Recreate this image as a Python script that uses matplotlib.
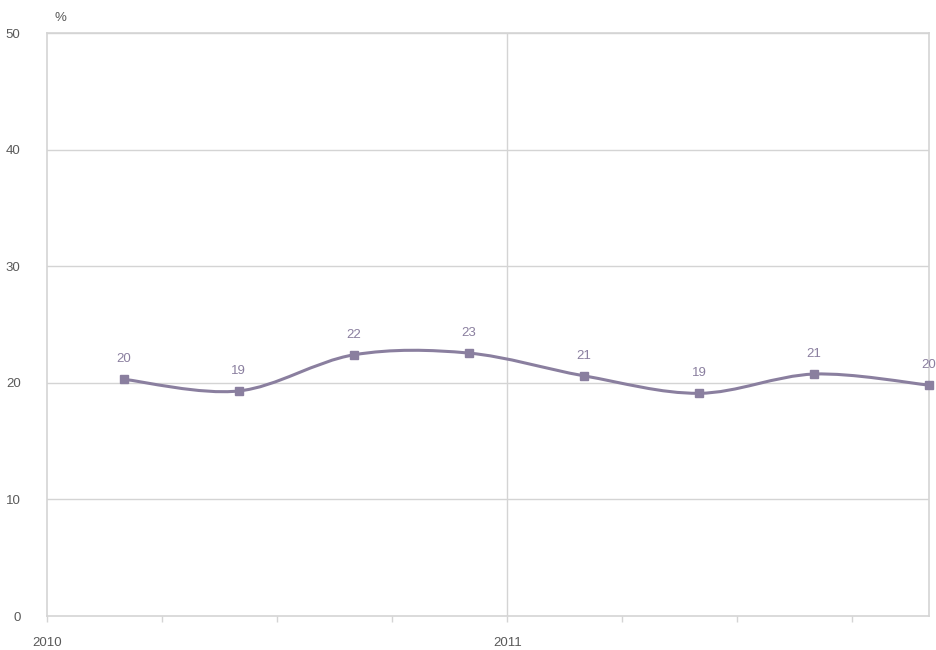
import numpy as np
import matplotlib
matplotlib.use("Agg")
import matplotlib.pyplot as plt
from matplotlib.path import Path
from matplotlib.patches import PathPatch

# ── Data ──────────────────────────────────────────────────────────────────────
months = [2, 5, 8, 11, 14, 17, 20, 23]          # months since Jan 2010
values = [20.3, 19.3, 22.4, 22.55, 20.6, 19.1, 20.75, 19.8]
labels = ["20", "19", "22", "23", "21", "19", "21", "20"]
year_ticks = [0, 12]
year_labels = ["2010", "2011"]
yticks = [0, 10, 20, 30, 40, 50]

LINE = "#8a7f9f"
GRID = "#d4d4d4"
TXT = "#595959"

plt.rcParams["font.family"] = ["Liberation Sans", "DejaVu Sans"]

fig = plt.figure(figsize=(9.37, 6.5), dpi=100)
ax = fig.add_axes([0.0502, 0.0523, 0.9413, 0.8969])
ax.set_xlim(0, 23)
ax.set_ylim(0, 50)


def smooth_path(xs, ys, t=0.5):
    """Catmull-Rom style bezier through the points (Excel-like smoothing)."""
    pts = np.column_stack([np.asarray(xs, float), np.asarray(ys, float)])
    verts = [pts[0]]
    codes = [Path.MOVETO]
    n = len(pts)
    for i in range(n - 1):
        p0 = pts[i - 1] if i > 0 else pts[i]
        p1 = pts[i]
        p2 = pts[i + 1]
        p3 = pts[i + 2] if i + 2 < n else pts[i + 1]
        c1 = p1 + (p2 - p0) * t / 3
        c2 = p2 - (p3 - p1) * t / 3
        verts += [c1, c2, p2]
        codes += [Path.CURVE4] * 3
    return Path(verts, codes)


# grid
for y in yticks[1:]:
    ax.axhline(y, color=GRID, lw=1, zorder=0)
ax.axvline(12, color=GRID, lw=1, zorder=0)

ax.add_patch(PathPatch(smooth_path(months, values, t=0.5), fill=False,
                       edgecolor=LINE, lw=2.2, zorder=3, clip_on=False))
ax.plot(months, values, ls="none", marker="s", ms=5.5, color=LINE,
        zorder=4, clip_on=False)

for x, v, s in zip(months, values, labels):
    ax.annotate(s, (x, v), xytext=(0, 10), textcoords="offset points",
                ha="center", va="bottom", fontsize=9.5, color=LINE,
                annotation_clip=False)

for sp in ax.spines.values():
    sp.set_color(GRID)
    sp.set_linewidth(1.2)

ax.set_yticks(yticks)
ax.set_yticklabels([str(v) for v in yticks], fontsize=9.5, color=TXT)
ax.tick_params(axis="y", length=0, pad=19)

ax.set_xticks(np.arange(0, 23, 3))
ax.set_xticklabels([])
ax.tick_params(axis="x", length=4, color=GRID, width=1)
for x, s in zip(year_ticks, year_labels):
    ax.text(x, -0.036, s, transform=ax.get_xaxis_transform(), ha="center",
            va="top", fontsize=9.5, color=TXT)

fig.text(60 / 937, 1 - 18 / 650, "%", ha="center", va="center",
         fontsize=9.5, color=TXT)

fig.savefig("out.png", dpi=100)
